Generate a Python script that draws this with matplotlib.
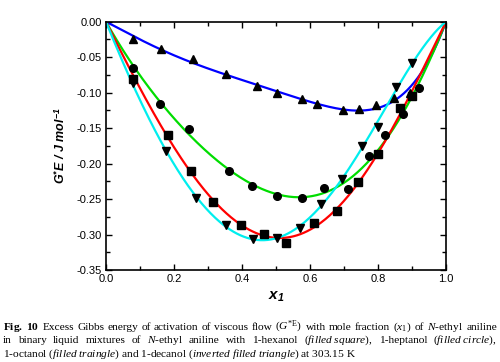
import numpy as np
import matplotlib
matplotlib.use("Agg")
import matplotlib.pyplot as plt
from matplotlib.ticker import MultipleLocator, FormatStrFormatter

plt.rcParams['axes.unicode_minus'] = False
plt.rcParams['mathtext.fontset'] = 'custom'
plt.rcParams['mathtext.rm'] = 'Liberation Serif'
plt.rcParams['mathtext.it'] = 'Liberation Serif:italic'
plt.rcParams['mathtext.bf'] = 'Liberation Serif:bold'
plt.rcParams['mathtext.sf'] = 'Liberation Sans:bold:italic'
plt.rcParams['font.family'] = 'Liberation Sans'

# 1-hexanol (filled square, red)
x_hex = [0.080, 0.183, 0.250, 0.314, 0.397, 0.466, 0.528, 0.613, 0.678, 0.742, 0.801, 0.866, 0.900]
g_hex = [-0.080, -0.160, -0.210, -0.254, -0.286, -0.299, -0.311, -0.283, -0.266, -0.226, -0.187, -0.122, -0.104]
# 1-heptanol (filled circle, green)
x_hep = [0.080, 0.159, 0.245, 0.362, 0.430, 0.502, 0.576, 0.642, 0.713, 0.774, 0.821, 0.874, 0.922]
g_hep = [-0.065, -0.116, -0.151, -0.210, -0.231, -0.245, -0.248, -0.234, -0.235, -0.189, -0.159, -0.130, -0.093]
# 1-octanol (filled triangle, blue)
x_oct = [0.080, 0.162, 0.256, 0.352, 0.444, 0.502, 0.576, 0.622, 0.697, 0.743, 0.795, 0.848, 0.895]
g_oct = [-0.025, -0.039, -0.053, -0.074, -0.091, -0.101, -0.109, -0.116, -0.125, -0.123, -0.117, -0.108, -0.101]
# 1-decanol (inverted filled triangle, cyan)
x_dec = [0.080, 0.175, 0.265, 0.352, 0.433, 0.502, 0.571, 0.632, 0.695, 0.752, 0.799, 0.854, 0.900]
g_dec = [-0.087, -0.182, -0.248, -0.287, -0.306, -0.304, -0.290, -0.257, -0.222, -0.175, -0.148, -0.092, -0.058]

def rk_fit(x, y, n=4):
    x = np.asarray(x); y = np.asarray(y)
    A = np.column_stack([x * (1 - x) * (2 * x - 1) ** k for k in range(n)])
    coef, *_ = np.linalg.lstsq(A, y, rcond=None)
    xs = np.linspace(0, 1, 300)
    ys = sum(c * xs * (1 - xs) * (2 * xs - 1) ** k for k, c in enumerate(coef))
    return xs, ys

fig = plt.figure(figsize=(5.0, 3.62), dpi=100)
ax = fig.add_axes([0.212, 0.2536, 0.68, 0.6864])

series = [
    (x_oct, g_oct, '#0000ff', '^'),
    (x_hep, g_hep, '#00dd00', 'o'),
    (x_hex, g_hex, '#ff0000', 's'),
    (x_dec, g_dec, '#00eeee', 'v'),
]
for x, y, c, m in series:
    xs, ys = rk_fit(x, y)
    ax.plot(xs, ys, color=c, lw=1.6, zorder=2)
for x, y, c, m in series:
    ax.plot(x, y, ls='none', marker=m, color='black', ms=5.5, zorder=3)

ax.set_xlim(0, 1.0)
ax.set_ylim(-0.35, 0.0)
ax.xaxis.set_major_locator(MultipleLocator(0.2))
ax.xaxis.set_minor_locator(MultipleLocator(0.1))
ax.yaxis.set_major_locator(MultipleLocator(0.05))
ax.yaxis.set_minor_locator(MultipleLocator(0.025))
ax.xaxis.set_major_formatter(FormatStrFormatter('%.1f'))
ax.yaxis.set_major_formatter(FormatStrFormatter('%.2f'))
ax.tick_params(which='both', direction='in', top=True, right=True, width=1.0, labelsize=8, pad=3)
ax.tick_params(which='major', length=4)
ax.tick_params(which='minor', length=3)
for s in ax.spines.values():
    s.set_linewidth(1.2)

ax.set_xlabel(r'x$_{\mathsf{1}}$', fontsize=11, fontweight='bold', style='italic', labelpad=4)
ax.set_ylabel(r'G$^{\mathsf{*}}$E / J mol$^{\mathsf{-1}}$', fontsize=9, fontweight='bold', style='italic', labelpad=6)

cap_line1 = [r'$\mathbf{Fig.\ 10}$ ', 'Excess', 'Gibbs', 'energy', 'of', 'activation', 'of', 'viscous', 'flow',
             r'$(G^{*\mathrm{E}})$', 'with', 'mole', 'fraction', r'$(x_1)$', 'of', r'$\mathit{N}$-ethyl', 'aniline']
cap_line2 = ['in', 'binary', 'liquid', 'mixtures', 'of', r'$\mathit{N}$-ethyl', 'aniline', 'with', '1-hexanol',
             r'($\mathit{filled\ square}$),', '1-heptanol', r'($\mathit{filled\ circle}$),']
cap_line3 = r'1-octanol ($\mathit{filled\ traingle}$) and 1-decanol ($\mathit{inverted\ filled\ triangle}$) at 303.15 K'

fs = 8.2
x0_px, x1_px = 3.0, 497.0
ys_px = [327, 340.5, 354]
renderer = fig.canvas.get_renderer()

def justify(words, ypx):
    texts = [fig.text(0, 1 - ypx / 362, w, fontsize=fs, family='Liberation Serif', ha='left', va='center')
             for w in words]
    widths = [t.get_window_extent(renderer).width for t in texts]
    gap = (x1_px - x0_px - sum(widths)) / (len(words) - 1)
    pos = x0_px
    for t, w in zip(texts, widths):
        t.set_x(pos / 500)
        pos += w + gap

justify(cap_line1, ys_px[0])
justify(cap_line2, ys_px[1])
fig.text(x0_px / 500, 1 - ys_px[2] / 362, cap_line3, fontsize=fs, family='Liberation Serif', ha='left', va='center')

fig.savefig('out.png', dpi=100)
